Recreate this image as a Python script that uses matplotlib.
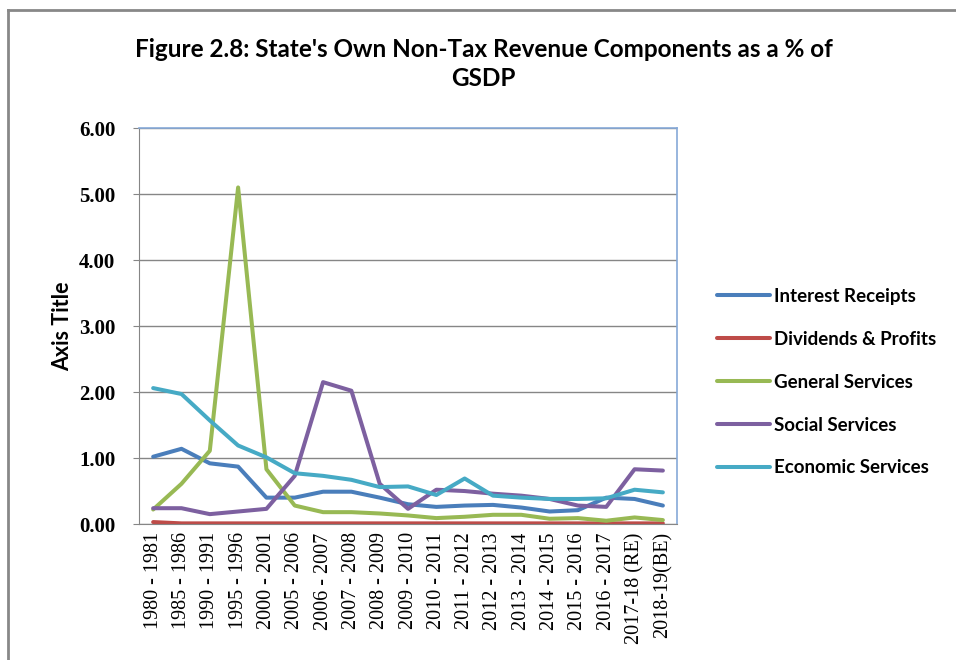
import matplotlib.pyplot as plt
from matplotlib.lines import Line2D

years = ['1980 - 1981', '1985 - 1986', '1990 - 1991', '1995 - 1996', '2000 - 2001',
         '2005 - 2006', '2006 - 2007', '2007 - 2008', '2008 - 2009', '2009 - 2010',
         '2010 - 2011', '2011 - 2012', '2012 - 2013', '2013 - 2014', '2014 - 2015',
         '2015 - 2016', '2016 - 2017', '2017-18 (RE)', '2018-19(BE)']

interest = [1.02, 1.14, 0.92, 0.87, 0.40, 0.40, 0.49, 0.49, 0.40, 0.30,
            0.26, 0.28, 0.29, 0.25, 0.19, 0.21, 0.40, 0.38, 0.28]
dividends = [0.03, 0.01, 0.01, 0.01, 0.01, 0.01, 0.01, 0.01, 0.01, 0.01,
             0.01, 0.01, 0.01, 0.01, 0.01, 0.01, 0.01, 0.01, 0.01]
general = [0.22, 0.61, 1.11, 5.10, 0.83, 0.28, 0.18, 0.18, 0.16, 0.13,
           0.09, 0.11, 0.14, 0.14, 0.08, 0.09, 0.05, 0.10, 0.06]
social = [0.24, 0.24, 0.15, 0.19, 0.23, 0.73, 2.15, 2.02, 0.61, 0.23,
          0.52, 0.50, 0.46, 0.43, 0.38, 0.28, 0.26, 0.83, 0.81]
economic = [2.06, 1.97, 1.57, 1.19, 1.01, 0.77, 0.73, 0.67, 0.56, 0.57,
            0.44, 0.69, 0.43, 0.40, 0.38, 0.38, 0.39, 0.52, 0.48]

series = [('Interest Receipts', interest, '#4A7EBB'),
          ('Dividends & Profits', dividends, '#BE4B48'),
          ('General Services', general, '#98B954'),
          ('Social Services', social, '#7D60A0'),
          ('Economic Services', economic, '#46AAC5')]

fig = plt.figure(figsize=(9.56, 6.6), dpi=100)
ax = fig.add_axes([0.1454, 0.206, 0.5628, 0.600])

x = range(len(years))
for name, vals, col in series:
    ax.plot(x, vals, color=col, lw=2.9, label=name, solid_capstyle='round')

ax.set_xlim(-0.5, len(years) - 0.5)
ax.set_ylim(0, 6)
ax.set_yticks([0, 1, 2, 3, 4, 5, 6])
ax.set_yticklabels(['%.2f' % v for v in range(7)],
                   fontfamily='Liberation Serif', fontweight='bold', fontsize=15)
ax.set_xticks(list(x))
ax.set_xticklabels(years, rotation=90, fontfamily='Liberation Serif', fontsize=14.5)
ax.tick_params(axis='x', length=0, pad=6)
ax.tick_params(axis='y', length=4, color='#868686', pad=13)
ax.grid(axis='y', color='#868686', lw=1)
ax.set_axisbelow(True)

for side in ('left', 'bottom'):
    ax.spines[side].set_color('#868686')
for side in ('top', 'right'):
    ax.spines[side].set_color('#86A9D8')
    ax.spines[side].set_linewidth(1.2)

ax.set_ylabel('Axis Title', fontfamily='Lato', fontweight='bold', fontsize=15.5, labelpad=4)

fig.text(0.506, 0.903, "Figure 2.8: State's Own Non-Tax Revenue Components as a % of\nGSDP",
         ha='center', va='center', fontfamily='Lato', fontweight='bold', fontsize=17.5,
         linespacing=1.35)

ax.legend(loc='center left', bbox_to_anchor=(0.750, 0.421), bbox_transform=fig.transFigure,
          frameon=False, handlelength=2.8, handletextpad=0.25, labelspacing=1.38,
          borderaxespad=0, borderpad=0,
          prop={'family': 'Lato', 'weight': 'bold', 'size': 13.5})

# outer chart frame (cropped on the right and bottom)
fig.add_artist(Line2D([8 / 956, 8 / 956], [0, 1 - 10 / 660], transform=fig.transFigure,
                      color='#888888', lw=2))
fig.add_artist(Line2D([8 / 956, 1], [1 - 10 / 660, 1 - 10 / 660], transform=fig.transFigure,
                      color='#888888', lw=2))

fig.savefig('out.png', dpi=100)
